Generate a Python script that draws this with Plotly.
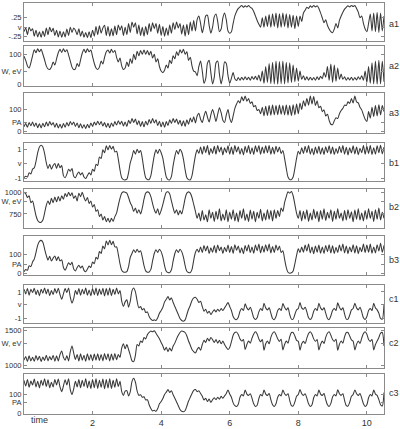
import plotly.graph_objects as go

# sampling grid (time axis)
time = [round(0.05 * i, 2) for i in range(211)]

a1_v = [
    -0.12, -0.02, -0.2, 0.0, -0.1, -0.04, -0.24, -0.08, -0.26, -0.12, -0.27, -0.1, -0.25, -0.02, -0.2, 0.0, -0.12, -0.03, -0.22, -0.08,
    -0.26, -0.1, -0.27, -0.12, -0.26, -0.05, -0.22, 0.0, -0.14, -0.02, -0.08, -0.2, -0.04, -0.24, -0.1, -0.27, -0.14, -0.28, -0.12, -0.28,
    -0.08, -0.24, 0.02, -0.2, 0.04, -0.16, -0.02, 0.05, -0.22, 0.02, -0.24, -0.04, -0.23, 0.03, -0.2, 0.06, -0.08, 0.04, -0.22, 0.0,
    -0.2, 0.1, -0.14, 0.14, 0.0, 0.12, -0.18, 0.06, -0.22, 0.0, -0.24, 0.02, -0.2, 0.1, -0.12, 0.12, -0.04, 0.1, -0.16, 0.08,
    -0.22, 0.02, -0.24, -0.02, -0.22, 0.06, -0.16, 0.12, -0.06, 0.14, -0.02, 0.1, -0.18, 0.06, -0.24, 0.08, -0.2, 0.14, -0.1, 0.18,
    -0.1, 0.2, 0.3, 0.1, -0.15, 0.05, 0.3, 0.32, 0.05, -0.16, 0.0, 0.28, 0.35, 0.15, -0.12, -0.05, 0.25, 0.38, 0.2, -0.1,
    -0.16, -0.12, 0.1, 0.3, 0.42, 0.5, 0.54, 0.58, 0.53, 0.57, 0.54, 0.58, 0.53, 0.5, 0.42, 0.3, 0.18, 0.08, 0.0, 0.25,
    0.0, 0.3, 0.02, 0.34, 0.0, 0.36, 0.02, 0.38, -0.02, 0.36, 0.0, 0.38, 0.02, 0.36, -0.02, 0.34, 0.0, 0.32, -0.04, 0.3,
    0.02, 0.3, 0.15, 0.38, 0.45, 0.53, 0.5, 0.57, 0.53, 0.58, 0.54, 0.57, 0.5, 0.38, 0.25, 0.12, 0.2, 0.05, -0.05, -0.12,
    -0.15, -0.05, 0.1, -0.02, 0.18, 0.3, 0.4, 0.48, 0.53, 0.57, 0.54, 0.58, 0.55, 0.58, 0.5, 0.4, 0.25, 0.3, 0.1, -0.05,
    -0.12, 0.1, 0.35, -0.1, 0.38, -0.12, 0.4, -0.14, 0.38, -0.1, 0.3,
]

a2_w = [
    94, 80, 62, 55, 72, 95, 115, 105, 118, 108, 116, 100, 82, 62, 52, 50, 58, 75, 65, 85,
    105, 116, 106, 118, 108, 115, 98, 78, 58, 50, 52, 70, 60, 82, 104, 116, 105, 118, 108, 114,
    92, 70, 55, 50, 58, 78, 68, 90, 108, 114, 104, 116, 106, 112, 90, 75, 88, 62, 50, 55,
    75, 60, 85, 70, 100, 82, 110, 95, 112, 100, 114, 100, 112, 98, 110, 88, 100, 75, 85, 60,
    45, 40, 48, 65, 55, 80, 70, 95, 85, 108, 96, 115, 104, 116, 100, 108, 80, 90, 62, 45,
    42, 30, 60, 78, 45, 5, 20, 70, 80, 40, 3, 25, 72, 78, 35, 3, 30, 75, 70, 30,
    5, 22, 40, 20, 14, 24, 15, 25, 16, 26, 17, 25, 15, 27, 18, 28, 16, 32, 12, 45,
    5, 60, 8, 70, 4, 74, 3, 78, 2, 76, 4, 78, 3, 74, 6, 72, 8, 65, 10, 55,
    12, 45, 18, 30, 16, 26, 15, 25, 16, 24, 15, 26, 17, 28, 20, 40, 25, 60, 15, 68,
    8, 65, 12, 55, 18, 35, 18, 26, 15, 24, 16, 25, 15, 24, 16, 26, 18, 30, 15, 45,
    8, 60, 5, 72, 3, 78, 2, 80, 3, 78, 10,
]

a3_pa = [
    20, 35, 18, 40, 25, 42, 22, 38, 16, 34, 15, 36, 20, 42, 24, 44, 28, 40, 18, 36,
    15, 32, 14, 35, 18, 40, 24, 44, 30, 42, 22, 38, 16, 34, 14, 30, 12, 32, 16, 38,
    22, 42, 28, 46, 30, 44, 24, 40, 18, 36, 16, 38, 22, 44, 28, 48, 32, 46, 24, 42,
    22, 50, 35, 58, 40, 56, 30, 48, 22, 44, 20, 46, 28, 54, 36, 58, 38, 52, 26, 46,
    20, 42, 18, 44, 26, 52, 36, 58, 40, 56, 32, 50, 24, 48, 22, 52, 32, 60, 42, 66,
    38, 70, 82, 55, 40, 70, 92, 65, 42, 75, 100, 75, 45, 78, 108, 85, 50, 40, 75, 100,
    60, 40, 70, 105, 125, 140, 130, 158, 140, 162, 138, 150, 128, 135, 112, 118, 95, 100, 80, 110,
    70, 115, 72, 118, 74, 120, 75, 118, 76, 120, 78, 118, 75, 120, 74, 118, 72, 122, 75, 125,
    80, 130, 100, 140, 115, 150, 120, 162, 125, 160, 118, 140, 108, 115, 90, 98, 70, 78, 50, 32,
    30, 48, 62, 58, 80, 95, 105, 120, 118, 135, 128, 150, 130, 162, 135, 130, 110, 98, 75, 55,
    45, 90, 60, 110, 68, 118, 70, 122, 75, 118, 90,
]

b1_v = [
    -0.95, -0.85, -0.9, -0.6, -0.68, -0.35, -0.25, 0.2, 0.8, 1.2, 1.32, 1.2, 0.75, 0.1, -0.3, 0.0, -0.35, -0.1, 0.05, -0.3,
    0.05, -0.25, -0.1, -0.8, -0.95, -0.7, -0.35, -0.5, -0.3, -0.85, -0.95, -0.7, -0.55, -0.75, -0.6, -0.9, -1.0, -0.8, -0.6, -0.75,
    -0.35, -0.5, 0.0, -0.1, 0.5, 0.4, 1.0, 0.8, 1.28, 1.0, 1.3, 1.05, 1.25, 0.85, 0.9, 0.35, -0.4, -0.95, -1.08, -1.1,
    -1.05, -0.6, 0.1, 0.5, 0.95, 0.7, 1.05, 0.8, 0.95, 0.4, -0.4, -0.95, -1.08, -1.08, -0.8, -0.1, 0.6, 1.0, 0.75, 1.05,
    0.8, 0.4, -0.3, -0.9, -1.08, -1.1, -0.85, -0.1, 0.55, 0.95, 0.7, 1.05, 0.85, 0.35, -0.4, -0.95, -1.08, -1.1, -0.8, -0.1,
    0.6, 1.0, 0.75, 1.2, 0.7, 1.25, 0.8, 1.3, 0.65, 1.1, 0.75, 1.25, 0.7, 1.3, 0.85, 1.2, 0.65, 1.15, 0.8, 1.28,
    0.7, 1.2, 0.68, 1.3, 0.85, 1.22, 0.7, 1.1, 0.65, 1.25, 0.8, 1.3, 0.72, 1.15, 0.68, 1.28, 0.85, 1.3, 0.7, 1.2,
    0.75, 1.28, 0.8, 1.3, 0.7, 1.18, 0.72, 1.25, 0.85, 1.2, 0.75, 0.95, 0.4, -0.3, -0.9, -1.08, -1.08, -0.9, -0.3, 0.4,
    0.9, 0.7, 1.15, 0.75, 1.25, 0.8, 1.3, 0.7, 1.1, 0.65, 1.2, 0.75, 1.25, 0.7, 1.15, 0.68, 1.22, 0.8, 1.28, 0.72,
    1.2, 0.68, 1.1, 0.75, 1.25, 0.8, 1.3, 0.7, 1.18, 0.65, 1.15, 0.78, 1.28, 0.72, 1.2, 0.66, 1.12, 0.8, 1.3, 0.7,
    1.25, 0.75, 1.3, 0.68, 1.15, 0.7, 1.28, 0.8, 1.32, 0.72, 1.2,
]

b2_w = [
    1000, 985, 940, 960, 880, 900, 820, 730, 675, 655, 655, 680, 760, 850, 900, 860, 930, 880, 945, 890,
    950, 900, 960, 920, 985, 950, 1000, 960, 995, 930, 960, 900, 990, 950, 1000, 940, 900, 940, 870, 900,
    830, 860, 780, 800, 720, 750, 680, 720, 660, 700, 655, 700, 665, 720, 760, 850, 930, 990, 1005, 1000,
    990, 940, 880, 840, 780, 820, 760, 800, 750, 820, 920, 990, 1005, 995, 950, 870, 800, 760, 810, 740,
    790, 860, 940, 1000, 1005, 980, 900, 820, 760, 800, 740, 790, 750, 830, 930, 990, 1005, 990, 940, 860,
    780, 700, 760, 670, 790, 680, 740, 660, 800, 700, 770, 665, 780, 690, 810, 670, 750, 680, 800, 660,
    770, 690, 800, 670, 760, 660, 790, 700, 810, 675, 750, 665, 795, 690, 780, 660, 770, 700, 805, 670,
    760, 680, 800, 690, 790, 670, 800, 700, 790, 720, 820, 780, 880, 950, 1005, 990, 1010, 960, 860, 760,
    700, 790, 670, 780, 690, 800, 665, 760, 680, 805, 700, 780, 660, 790, 690, 810, 675, 770, 700, 800,
    665, 780, 690, 810, 700, 760, 670, 790, 680, 800, 700, 775, 660, 795, 690, 810, 680, 760, 670, 790,
    690, 810, 700, 780, 665, 800, 690, 820, 680, 770, 700,
]

b3_pa = [
    8, 20, 15, 40, 35, 60, 75, 110, 150, 170, 175, 165, 130, 95, 70, 90, 65, 80, 92, 68,
    88, 65, 72, 30, 15, 35, 55, 45, 58, 22, 12, 30, 42, 28, 38, 15, 8, 22, 38, 30,
    60, 50, 85, 75, 115, 105, 145, 130, 172, 150, 175, 152, 170, 140, 140, 100, 50, 15, 6, 5,
    8, 35, 85, 105, 125, 110, 128, 112, 120, 85, 40, 12, 5, 6, 20, 65, 105, 125, 110, 128,
    115, 85, 40, 10, 3, 3, 18, 65, 105, 125, 110, 128, 115, 85, 40, 10, 3, 3, 20, 70,
    110, 128, 112, 140, 110, 148, 118, 145, 105, 135, 112, 148, 108, 150, 120, 140, 105, 138, 115, 150,
    110, 142, 106, 152, 122, 145, 108, 136, 104, 148, 118, 152, 110, 140, 106, 150, 120, 155, 108, 145,
    112, 152, 118, 156, 108, 142, 110, 150, 122, 145, 110, 120, 75, 30, 5, 0, 2, 12, 50, 95,
    130, 110, 140, 112, 150, 118, 155, 108, 140, 104, 145, 112, 150, 106, 140, 105, 148, 115, 152, 108,
    146, 105, 138, 110, 150, 118, 155, 108, 145, 104, 140, 114, 152, 108, 146, 104, 138, 115, 155, 110,
    150, 112, 155, 106, 140, 108, 152, 118, 160, 112, 148,
]

c1_v = [
    1.2, 0.85, 1.25, 0.75, 1.2, 0.95, 1.28, 0.8, 1.15, 0.7, 1.2, 0.9, 1.3, 0.85, 1.22, 0.72, 1.1, 0.8, 1.25, 0.9,
    1.28, 0.8, 0.45, 0.85, 1.25, 0.95, 1.3, 0.6, 0.15, 0.5, 1.1, 0.8, 1.25, 0.75, 1.2, 0.85, 1.3, 0.75, 1.15, 0.7,
    1.25, 0.78, 1.3, 0.72, 1.22, 0.8, 1.28, 0.7, 1.25, 0.75, 1.3, 0.72, 1.2, 0.8, 1.3, 0.85, 1.1, 0.3, -0.1, 0.25,
    0.4, -0.15, 0.3, 1.1, 1.3, 1.0, 0.3, -0.2, -0.1, -0.35, -0.25, -0.55, -0.5, -0.85, -1.05, -1.15, -1.1, -1.15, -0.95, -0.6,
    -0.4, -0.15, 0.25, 0.45, 0.65, 0.4, 0.55, 0.2, -0.1, -0.4, -0.7, -1.0, -1.15, -1.2, -1.1, -0.7, -0.3, 0.0, 0.35, 0.55,
    0.6, 0.45, 0.2, 0.3, -0.1, -0.45, -0.3, -0.6, -0.45, -0.7, -0.5, -0.35, -0.5, -0.3, -0.45, -0.25, -0.4, -0.2, 0.0, 0.2,
    -0.1, -0.4, -0.85, -1.05, -1.08, -0.9, -0.45, -0.25, -0.4, 0.1, -0.2, -0.35, -0.15, -0.5, -0.95, -1.08, -0.95, -0.5, -0.25, -0.4,
    0.15, -0.2, -0.35, -0.2, -0.6, -1.0, -1.08, -0.85, -0.4, -0.25, -0.4, 0.12, -0.15, -0.35, -0.2, -0.7, -1.05, -1.05, -0.7, -0.35,
    -0.25, 0.2, -0.2, -0.3, -0.15, -0.5, -0.95, -1.08, -0.9, -0.45, -0.25, -0.4, 0.15, -0.2, -0.35, -0.2, -0.6, -1.0, -1.08, -0.8,
    -0.4, -0.25, -0.4, 0.18, -0.15, -0.35, -0.2, -0.65, -1.05, -1.05, -0.75, -0.35, -0.25, 0.15, -0.2, -0.35, -0.15, -0.5, -0.95, -1.08,
    -0.85, -0.4, -0.25, -0.4, 0.15, -0.2, -0.35, -0.6, -1.0, -1.05, 0.05,
]

c2_w = [
    1080, 1130, 1060, 1140, 1070, 1120, 1065, 1145, 1080, 1135, 1060, 1125, 1075, 1150, 1070, 1130, 1085, 1150, 1065, 1140,
    1070, 1160, 1210, 1120, 1080, 1140, 1070, 1200, 1280, 1180, 1090, 1160, 1070, 1170, 1080, 1150, 1065, 1170, 1080, 1160,
    1070, 1165, 1080, 1170, 1075, 1160, 1070, 1175, 1085, 1170, 1070, 1165, 1080, 1175, 1085, 1160, 1120, 1250, 1310, 1240,
    1300, 1230, 1150, 1070, 1060, 1150, 1300, 1280, 1350, 1330, 1400, 1380, 1440, 1470, 1490, 1480, 1495, 1460, 1420, 1380,
    1330, 1280, 1220, 1260, 1200, 1250, 1210, 1280, 1320, 1380, 1430, 1470, 1490, 1485, 1470, 1420, 1350, 1290, 1230, 1200,
    1180, 1230, 1260, 1220, 1300, 1360, 1330, 1390, 1350, 1400, 1370, 1330, 1370, 1320, 1360, 1310, 1350, 1300, 1260, 1230,
    1260, 1340, 1430, 1470, 1475, 1440, 1380, 1350, 1370, 1230, 1300, 1350, 1320, 1390, 1450, 1480, 1450, 1380, 1340, 1370,
    1220, 1310, 1350, 1310, 1400, 1460, 1480, 1440, 1380, 1345, 1375, 1225, 1300, 1350, 1320, 1410, 1470, 1470, 1420, 1360,
    1345, 1220, 1310, 1345, 1315, 1390, 1455, 1480, 1445, 1380, 1345, 1370, 1225, 1300, 1350, 1315, 1400, 1460, 1480, 1430,
    1370, 1345, 1375, 1220, 1305, 1350, 1320, 1410, 1470, 1470, 1420, 1365, 1345, 1225, 1305, 1350, 1315, 1390, 1455, 1480,
    1445, 1370, 1345, 1370, 1225, 1300, 1350, 1400, 1460, 1470, 1280,
]

c3_pa = [
    175, 145, 180, 138, 172, 150, 182, 140, 170, 135, 176, 148, 184, 142, 178, 136, 165, 140, 180, 150,
    182, 140, 115, 145, 178, 150, 184, 125, 100, 130, 170, 140, 180, 136, 175, 142, 184, 135, 172, 132,
    180, 136, 184, 132, 176, 138, 182, 130, 180, 134, 184, 132, 175, 138, 184, 142, 170, 115, 95, 118,
    120, 92, 115, 170, 186, 165, 118, 95, 98, 85, 88, 70, 72, 45, 25, 12, 15, 10, 25, 50,
    62, 78, 100, 112, 126, 110, 120, 98, 80, 60, 40, 20, 10, 8, 14, 38, 65, 85, 105, 122,
    126, 115, 120, 105, 90, 70, 80, 62, 75, 58, 72, 82, 72, 85, 75, 90, 80, 92, 105, 124,
    102, 85, 55, 40, 36, 48, 85, 100, 92, 124, 102, 95, 104, 80, 50, 36, 42, 78, 100, 92,
    124, 102, 95, 105, 72, 45, 36, 50, 85, 100, 92, 124, 104, 95, 104, 68, 40, 38, 60, 90,
    100, 126, 104, 95, 104, 80, 50, 36, 45, 82, 100, 92, 124, 102, 95, 105, 72, 45, 36, 52,
    86, 100, 92, 125, 104, 95, 104, 68, 40, 38, 58, 90, 100, 124, 104, 95, 105, 80, 50, 36,
    45, 82, 100, 92, 124, 102, 95, 72, 45, 38, 110,
]

right_labels = ["a1", "a2", "a3", "b1", "b2", "b3", "c1", "c2", "c3"]
series = [a1_v, a2_w, a3_pa, b1_v, b2_w, b3_pa, c1_v, c2_w, c3_pa]
y_ranges = [[-0.38, 0.645], [-3.2, 125.8], [-9, 177], [-1.21, 1.48], [591, 1034],
            [-10.5, 200], [-1.37, 1.52], [972, 1528], [-5.3, 210.5]]
y_tickvals = [[0.25, 0.0, -0.25], [100, 45, 0], [100, 41, 0], [1, 0.03, -1], [1000, 898, 750],
              [100, 47, 0], [1, 0.04, -1], [1500, 1319, 1000], [100, 55, 0]]
y_ticktext = [[".25", "v", "-.25"], ["100", "W, eV", "0"], ["100", "PA", "0"],
              ["1", "v", "-1"], ["1000", "W, eV", "750"], ["100", "PA", "0"],
              ["1", "v", "-1"], ["1500", "W, eV", "1000"], ["100", "PA", "0"]]
x_ticks = [2, 4, 6, 8, 10]

W, H = 400, 429
panels_px = [(1, 40), (45, 85), (92, 133), (143, 182), (190, 229), (237, 277),
             (287, 326), (331, 371), (377, 418)]
label_y_px = [22, 65, 113, 163, 208, 262, 301, 346, 397]
x0_px, x1_px = 24, 384

FONT = "Arial, Liberation Sans, Helvetica, sans-serif"
FRAME = "#8a8a8a"
LINE = "#383838"

fig = go.Figure()
layout = dict(width=W, height=H, margin=dict(l=0, r=0, t=0, b=0),
              paper_bgcolor="white", plot_bgcolor="white", showlegend=False,
              font=dict(family=FONT, size=8, color="#333"))
annotations = []
for i in range(9):
    k = "" if i == 0 else str(i + 1)
    fig.add_trace(go.Scatter(x=time, y=series[i], mode="lines",
                             line=dict(color=LINE, width=1.05, shape="spline", smoothing=0.7),
                             xaxis="x" + k, yaxis="y" + k, hoverinfo="skip"))
    top, bot = panels_px[i]
    layout["xaxis" + k] = dict(domain=[x0_px / W, x1_px / W], anchor="y" + k, range=[0, 10.5],
                               tickvals=x_ticks, ticktext=[str(v) for v in x_ticks],
                               showticklabels=(i == 8), ticks="inside", ticklen=3,
                               tickcolor=FRAME, showline=True, linecolor=FRAME, linewidth=1,
                               mirror="ticks", showgrid=False, zeroline=False,
                               tickfont=dict(size=9, color="#333"))
    layout["yaxis" + k] = dict(domain=[1 - bot / H, 1 - top / H], anchor="x" + k,
                               range=y_ranges[i], tickvals=y_tickvals[i], ticktext=y_ticktext[i],
                               ticks="inside", ticklen=3, tickcolor=FRAME, showline=True,
                               linecolor=FRAME, linewidth=1, mirror="ticks", showgrid=False,
                               zeroline=False, tickfont=dict(size=7.5, color="#333"))
    annotations.append(dict(text=right_labels[i], xref="paper", yref="paper",
                            x=(x1_px + 3) / W, y=1 - label_y_px[i] / H, xanchor="left",
                            yanchor="middle", showarrow=False, font=dict(size=9, color="#333")))

annotations.append(dict(text="time", xref="x9", yref="paper", x=0.45, y=1 - 424 / H,
                        xanchor="center", yanchor="middle", showarrow=False,
                        font=dict(size=9, color="#333")))
layout["annotations"] = annotations
fig.update_layout(**layout)
fig.write_html("out.html", config={"displayModeBar": False},
               post_script="document.body.style.margin='0';document.body.style.overflow='hidden';")
